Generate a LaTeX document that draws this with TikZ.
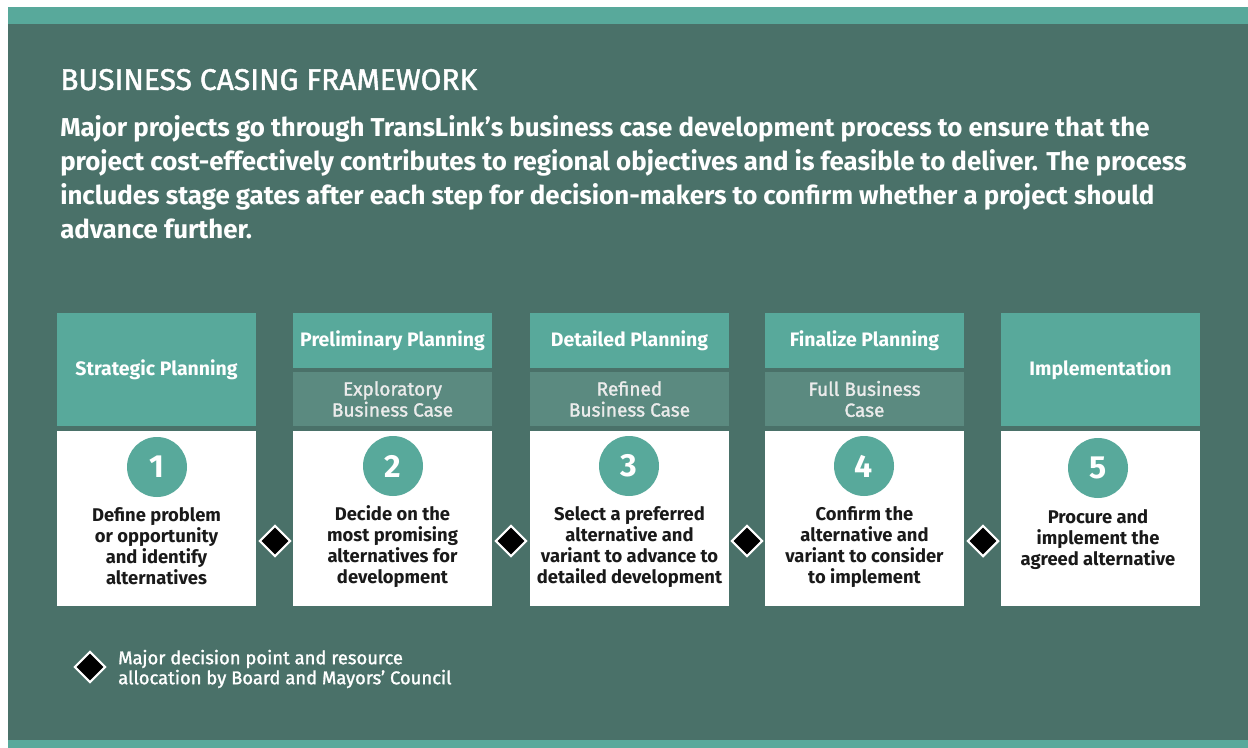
\documentclass[tikz,border=0pt]{standalone}
\usepackage{fontspec}
\setmainfont{Fira Sans}
\newfontfamily\firamed[FakeBold=1.5]{Fira Sans}
\usetikzlibrary{shapes.geometric}
\definecolor{bgc}{HTML}{4A7169}
\definecolor{tealc}{HTML}{58A99B}
\definecolor{subc}{HTML}{5B8A80}
\definecolor{darktxt}{HTML}{1A1A1A}
\tikzset{
  hdr/.style={fill=tealc, inner sep=0pt, minimum width=149.25pt, text=white, font=\fontsize{14.6}{17}\selectfont\bfseries, align=center},
  subhdr/.style={fill=subc, inner sep=0pt, minimum width=149.25pt, minimum height=40.5pt, text=white!92!black, font=\firamed\fontsize{14.3}{15.75}\selectfont, align=center},
  bodybox/.style={fill=white, inner sep=0pt, minimum width=149.25pt, minimum height=131.25pt},
  numc/.style={circle, fill=tealc, minimum size=45pt, inner sep=0pt, text=white, font=\fontsize{24}{26}\selectfont\bfseries},
  desc/.style={text=darktxt, align=center, font=\fontsize{13.8}{15.75}\selectfont\bfseries, inner sep=0pt},
  gate/.style={diamond, fill=black, draw=white, line width=1.6pt, minimum size=23.5pt, inner sep=0pt},
}
\begin{document}
\begin{tikzpicture}[x=0.75pt,y=-0.75pt]
\useasboundingbox (0,0) rectangle (1248,748);
\fill[white] (0,0) rectangle (1248,748);
\fill[bgc] (8,7) rectangle (1248,748);
\fill[tealc] (8,7) rectangle (1248,24);
\fill[tealc] (8,740) rectangle (1248,748);

\node[anchor=base west, inner sep=0pt, text=white, font=\firamed\fontsize{22.5}{24}\selectfont] (title) at (60,90) {BUSINESS CASING FRAMEWORK};
\node[anchor=north west, inner sep=0pt, text=white, align=left, font=\fontsize{19.4}{25.5}\selectfont\bfseries] (intro) at (60,115)
 {Major projects go through TransLink’s business case development process to ensure that the\\
  project cost-effectively contributes to regional objectives and is feasible to deliver. The process\\
  includes stage gates after each step for decision-makers to confirm whether a project should\\
  advance further.};

% column 1
\node[hdr, minimum height=84.75pt] (h1) at (156.5,369.5) {Strategic Planning};
% column 2
\node[hdr, minimum height=41.25pt] (h2) at (392.5,340.5) {Preliminary Planning};
\node[subhdr] (s2) at (392.5,399) {Exploratory\\Business Case};
% column 3
\node[hdr, minimum height=41.25pt] (h3) at (629.5,340.5) {Detailed Planning};
\node[subhdr] (s3) at (629.5,399) {Refined\\Business Case};
% column 4
\node[hdr, minimum height=41.25pt] (h4) at (864.5,340.5) {Finalize Planning};
\node[subhdr] (s4) at (864.5,399) {Full Business\\Case};
% column 5
\node[hdr, minimum height=84.75pt] (h5) at (1100.5,369.5) {Implementation};

% white bodies
\node[bodybox] (b1) at (156.5,518) {};
\node[bodybox] (b2) at (392.5,518.5) {};
\node[bodybox] (b3) at (629.5,518.5) {};
\node[bodybox] (b4) at (864.5,518.5) {};
\node[bodybox] (b5) at (1100.5,518) {};

% numbers
\node[numc] (n1) at (157,467) {1};
\node[numc] (n2) at (393,466) {2};
\node[numc] (n3) at (629,466) {3};
\node[numc] (n4) at (864,466) {4};
\node[numc] (n5) at (1098,468) {5};

% descriptions
\node[desc] (d1) at (156.5,546) {Define problem\\or opportunity\\and identify\\alternatives};
\node[desc] (d2) at (392.5,547) {Decide on the\\most promising\\alternatives for\\development};
\node[desc] (d3) at (629.5,547) {Select a preferred\\alternative and\\variant to advance to\\detailed development};
\node[desc] (d4) at (864.5,547) {Confirm the\\alternative and\\variant to consider\\to implement};
\node[desc] (d5) at (1098,540) {Procure and\\implement the\\agreed alternative};

% gates
\node[gate] (g1) at (275,541) {};
\node[gate] (g2) at (511,541) {};
\node[gate] (g3) at (747,541) {};
\node[gate] (g4) at (983,541) {};

% legend
\node[gate] (lg) at (90,667) {};
\node[anchor=west, inner sep=0pt, text=white, align=left, font=\firamed\fontsize{13.8}{15}\selectfont] (lt) at (118,669)
 {Major decision point and resource\\allocation by Board and Mayors’ Council};
\end{tikzpicture}
\end{document}
